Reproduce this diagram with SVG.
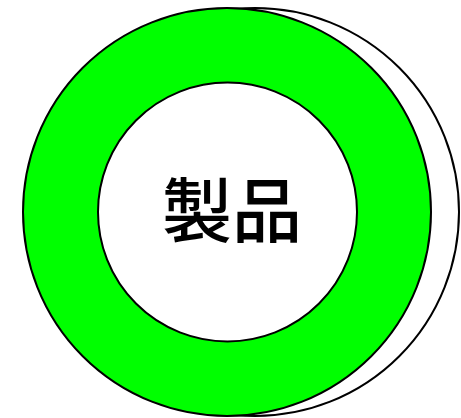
<svg xmlns="http://www.w3.org/2000/svg" width="461" height="418" viewBox="0 0 461 418">
<style>
.c{stroke:#000;stroke-width:2}
.t{font-family:"Noto Sans CJK JP","Noto Sans CJK SC",sans-serif;font-size:70px;font-weight:500;fill:#000;text-anchor:middle}
</style>
<rect width="461" height="418" fill="#fff"/>
<g id="back"><circle class="c" cx="255" cy="212" r="204" fill="#fff"/></g>
<g id="ring"><circle class="c" cx="227" cy="212" r="204" fill="#00ff00"/></g>
<g id="product"><circle class="c" cx="227.5" cy="212" r="129.5" fill="#fff"/>
<text class="t" x="232" y="237">製品</text></g>
</svg>
